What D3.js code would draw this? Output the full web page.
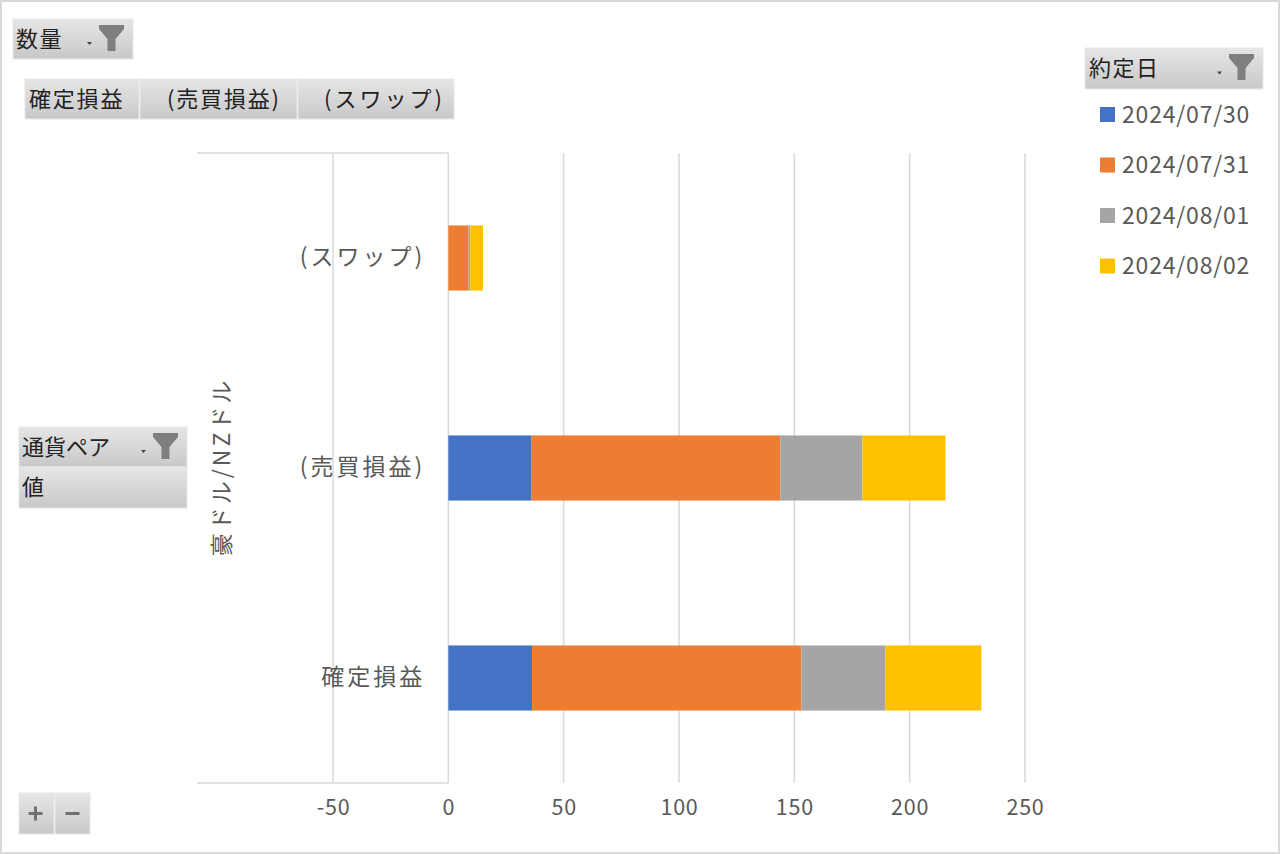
<!DOCTYPE html>
<html><head><meta charset="utf-8">
<script src="https://cdn.jsdelivr.net/npm/d3@7"></script>
<style>
html,body{margin:0;padding:0;background:#fff;}
svg{display:block;}
</style></head>
<body>
<svg id="chart" width="1280" height="854"></svg>
<script>
const categories = ["(スワップ)", "(売買損益)", "確定損益"];
const dates = ["2024/07/30", "2024/07/31", "2024/08/01", "2024/08/02"];
const val0730 = [0, 36.1, 36.3];
const val0731 = [8.8, 107.8, 116.8];
const val0801 = [0.7, 35.6, 36.4];
const val0802 = [5.5, 36.0, 41.6];
const colors = ["#4472C4", "#ED7D31", "#A5A5A5", "#FFC000"];
const xTicks = [-50, 0, 50, 100, 150, 200, 250];
const columnFields = ["確定損益", "(売買損益)", "(スワップ)"];
const axisTitle = "豪ドル/NZドル";

const FONT = "'Noto Sans CJK JP','Noto Sans',sans-serif";
const svg = d3.select("#chart");

const defs = svg.append("defs");
const grad = defs.append("linearGradient").attr("id","btn").attr("x1",0).attr("y1",0).attr("x2",0).attr("y2",1);
grad.append("stop").attr("offset","0%").attr("stop-color","#e6e6e6");
grad.append("stop").attr("offset","100%").attr("stop-color","#c8c8c8");

// outer border
svg.append("rect").attr("x",1).attr("y",1).attr("width",1278).attr("height",852)
  .attr("fill","none").attr("stroke","#d9d9d9").attr("stroke-width",2);

const seriesData = [val0730, val0731, val0801, val0802];
const rows = categories.map((c,i)=>{
  const o = {cat:c};
  dates.forEach((d,j)=>o[d]=seriesData[j][i]);
  return o;
});
const stack = d3.stack().keys(dates)(rows);

const x = d3.scaleLinear().domain([-50,250]).range([333,1025]);
const y = d3.scaleBand().domain(categories).range([153,783]).paddingInner(0.69).paddingOuter(0.345);

// label area horizontal lines
svg.append("line").attr("x1",197).attr("x2",x(0)).attr("y1",153).attr("y2",153).attr("stroke","#d9d9d9").attr("stroke-width",1.5);
svg.append("line").attr("x1",197).attr("x2",x(0)).attr("y1",783).attr("y2",783).attr("stroke","#d9d9d9").attr("stroke-width",1.5);

// gridlines
svg.append("g").selectAll("line").data(xTicks).join("line")
  .attr("x1",d=>x(d)).attr("x2",d=>x(d)).attr("y1",153).attr("y2",783)
  .attr("stroke","#d9d9d9").attr("stroke-width",1.5);

// bars
svg.append("g").selectAll("g").data(stack).join("g")
  .attr("fill",(d,i)=>colors[i])
  .selectAll("rect").data(d=>d).join("rect")
  .attr("x",d=>x(d[0])).attr("width",d=>Math.max(0,x(d[1])-x(d[0])))
  .attr("y",d=>y(d.data.cat)).attr("height",y.bandwidth());

// x axis
const xa = svg.append("g").attr("transform","translate(0,800)")
  .call(d3.axisBottom(x).tickValues(xTicks).tickSize(0).tickPadding(0).tickFormat(d=>String(d)));
xa.select(".domain").remove();
xa.selectAll("text").attr("font-family",FONT).attr("font-size",21.5).attr("fill","#595959")
  .attr("letter-spacing",0.8).attr("dy","0.71em");

// y axis labels
const ya = svg.append("g").attr("transform",`translate(${x(0)},0)`)
  .call(d3.axisLeft(y).tickSize(0).tickPadding(23));
ya.select(".domain").remove();
ya.selectAll("text").attr("font-family",FONT).attr("font-size",23).attr("fill","#595959")
  .attr("letter-spacing",3);

// rotated axis group label
svg.append("text").attr("transform","translate(222,467) rotate(-90)")
  .attr("text-anchor","middle").attr("dy","0.35em")
  .attr("font-family",FONT).attr("font-size",23).attr("letter-spacing",3)
  .attr("fill","#595959").text(axisTitle);

function funnel(g, fx, fy){
  g.append("path").attr("d",`M${fx},${fy} h25 v4 l-8.5,10 v12 h-8 v-12 l-8.5,-10 z`).attr("fill","#7f7f7f");
}
function dropArrow(g, ax, ay){
  g.append("path").attr("d",`M${ax},${ay} h5 l-2.5,3 z`).attr("fill","#404040");
}
function button(x0,y0,w,h,label,tx,opts={}){
  const g = svg.append("g");
  g.append("rect").attr("x",x0).attr("y",y0).attr("width",w).attr("height",h).attr("fill","url(#btn)")
    .attr("stroke","#e8e8e8").attr("stroke-width",1);
  if(label) g.append("text").attr("x",tx).attr("y",y0+h/2).attr("dy","0.35em")
    .attr("font-family",FONT).attr("font-size",22).attr("fill","#222")
    .attr("letter-spacing",opts.ls!=null?opts.ls:1.5).text(label);
  if(opts.filter){ dropArrow(g, x0+w-46, y0+h/2+3); funnel(g, x0+w-34, y0+6); }
  return g;
}

button(13,19,120,40,"数量",16,{filter:true});
const colX = [25,140,298], colW=[114,157,156], colTx=[29,167,324], colLs=[1.8,1.8,3];
columnFields.forEach((f,i)=>button(colX[i],79,colW[i],40,f,colTx[i],{ls: colLs[i]}));
button(1085,48,178,41,"約定日",1089,{filter:true});
button(19,427,168,40,"通貨ペア",22,{filter:true,ls:0});
button(19,467,168,41,"値",22);

// +/- buttons
const pb = button(19,793,35,41,null,0);
pb.append("path").attr("d","M28.5,813.5 h14 M35.5,806.5 v14").attr("stroke","#707070").attr("stroke-width",3);
const mb = button(55,793,35,41,null,0);
mb.append("path").attr("d","M65.5,813.5 h14").attr("stroke","#707070").attr("stroke-width",3);

// legend
const leg = svg.append("g").selectAll("g").data(dates).join("g")
  .attr("transform",(d,i)=>`translate(1100,${114.5+i*50.5})`);
leg.append("rect").attr("x",0).attr("y",-7.5).attr("width",15).attr("height",15).attr("fill",(d,i)=>colors[i]);
leg.append("text").attr("x",22).attr("dy","0.35em").attr("font-family",FONT).attr("font-size",23)
  .attr("letter-spacing",0.8).attr("fill","#595959").text(d=>d);
</script>
</body></html>
